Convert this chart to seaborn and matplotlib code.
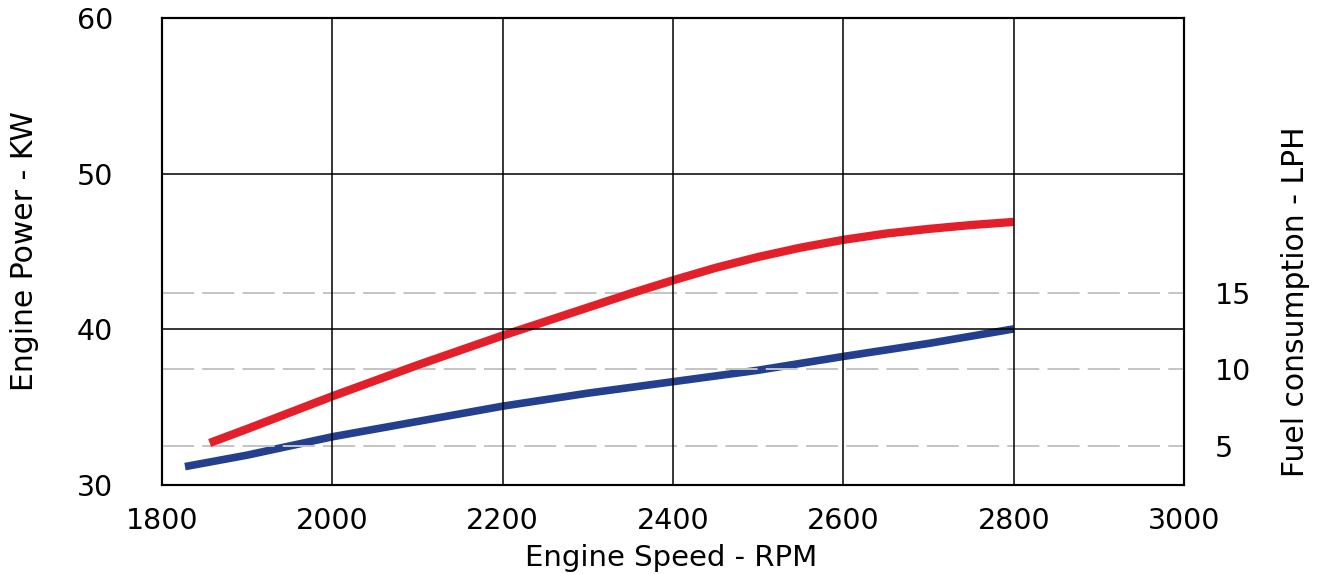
import pandas as pd
import matplotlib
matplotlib.use("Agg")
import matplotlib.pyplot as plt
import seaborn as sns

# エンジン出力と燃費の特性曲線
rpm_power = [1856, 1900, 1950, 2000, 2050, 2100, 2150, 2200, 2250, 2300,
             2350, 2400, 2450, 2500, 2550, 2600, 2650, 2700, 2750, 2800]
power_kw = [32.7, 33.6, 34.65, 35.7, 36.7, 37.7, 38.65, 39.6, 40.5, 41.4,
            42.3, 43.15, 43.95, 44.65, 45.25, 45.75, 46.15, 46.45, 46.7, 46.9]

rpm_fuel = [1827, 1900, 2000, 2100, 2200, 2300, 2400, 2500, 2600, 2700, 2800]
fuel_lph = [3.65, 4.4, 5.6, 6.6, 7.6, 8.45, 9.2, 9.95, 10.85, 11.7, 12.65]

x_ticks = [1800, 2000, 2200, 2400, 2600, 2800, 3000]
power_ticks = [30, 40, 50, 60]
fuel_ticks = [5, 10, 15]

df_power = pd.DataFrame({"rpm": rpm_power, "kw": power_kw})
df_fuel = pd.DataFrame({"rpm": rpm_fuel, "lph": fuel_lph})

sns.set_theme(style="white")
plt.rcParams["font.family"] = ["DejaVu Sans"]
plt.rcParams["text.color"] = "black"
plt.rcParams["axes.labelcolor"] = "black"

fig = plt.figure(figsize=(13.19, 5.74), dpi=100)
ax = fig.add_subplot(111)
fig.subplots_adjust(left=0.1228, right=0.8977, bottom=0.1551, top=0.9686)
ax2 = ax.twinx()

# 燃費（右軸）
sns.lineplot(data=df_fuel, x="rpm", y="lph", ax=ax2, color="#243F8E",
             linewidth=5.5, solid_capstyle="butt")
# 出力（左軸）
sns.lineplot(data=df_power, x="rpm", y="kw", ax=ax, color="#E3202A",
             linewidth=6.0, solid_capstyle="butt")

# 左軸を前面に（黒いグリッドを線の上に）
ax.set_zorder(ax2.get_zorder() + 1)
ax.patch.set_visible(False)
ax.set_axisbelow(False)
ax2.set_axisbelow(False)

ax.set_xlim(1800, 3000)
ax.set_ylim(30, 60)
ax2.set_ylim(2.45, 32.97)
ax.set_xticks(x_ticks)
ax.set_yticks(power_ticks)
ax2.set_yticks(fuel_ticks)

ax.grid(True, color="black", linewidth=1.1)
ax2.grid(True, axis="y", color="#c4c4c4", linewidth=1.4, linestyle=(0, (16.5, 4.2)))
ax2.grid(False, axis="x")

for a in (ax, ax2):
    for s in a.spines.values():
        s.set_color("black")
        s.set_linewidth(1.5)

ax.tick_params(axis="x", length=0, pad=16, labelsize=20.5, colors="black")
ax.tick_params(axis="y", length=0, pad=35, labelsize=20.5, colors="black")
ax2.tick_params(axis="y", length=0, pad=22, labelsize=20.5, colors="black")

ax.set_xlabel("Engine Speed - RPM", fontsize=21, color="black")
ax.set_ylabel("Engine Power - KW", fontsize=21.5, color="black")
ax2.set_ylabel("Fuel consumption - LPH", fontsize=21.5, color="black")
ax.xaxis.set_label_coords(0.498, -0.126)
ax.yaxis.set_label_coords(-0.12, 0.5)
ax2.yaxis.set_label_coords(1.095, 0.392)

fig.savefig("out.png", dpi=100)
